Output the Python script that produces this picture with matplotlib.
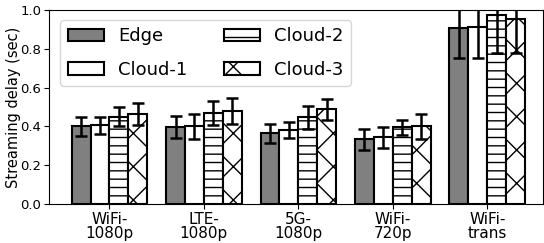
import numpy as np
import matplotlib
matplotlib.use('Agg')
import matplotlib.pyplot as plt

groups = ['WiFi-\n1080p', 'LTE-\n1080p', '5G-\n1080p', 'WiFi-\n720p', 'WiFi-\ntrans']
series = ['Edge', 'Cloud-1', 'Cloud-2', 'Cloud-3']

edge = [0.400, 0.395, 0.364, 0.333, 0.906]
cloud1 = [0.405, 0.400, 0.381, 0.344, 0.914]
cloud2 = [0.450, 0.470, 0.447, 0.395, 0.974]
cloud3 = [0.464, 0.480, 0.488, 0.400, 0.954]

edge_err = [0.047, 0.057, 0.050, 0.053, 0.155]
cloud1_err = [0.045, 0.063, 0.043, 0.054, 0.163]
cloud2_err = [0.050, 0.060, 0.058, 0.037, 0.194]
cloud3_err = [0.055, 0.065, 0.055, 0.063, 0.174]

values = [edge, cloud1, cloud2, cloud3]
errors = [edge_err, cloud1_err, cloud2_err, cloud3_err]
colors = ['#808080', 'white', 'white', 'white']
hatches = ['', '', '--', 'x']

fig = plt.figure(figsize=(5.44, 2.43), dpi=100)
ax = fig.add_axes([0.09, 0.16, 0.908, 0.799])

x = np.arange(len(groups))
w = 0.2
for k in range(4):
    ax.bar(x + (k - 1.5) * w, values[k], w, yerr=errors[k], color=colors[k],
           edgecolor='black', linewidth=1.5, hatch=hatches[k], label=series[k],
           capsize=4, error_kw=dict(elinewidth=1.8, capthick=1.8, ecolor='black'))

ax.set_xticks(x)
ax.set_xticklabels(groups, fontsize=11, linespacing=0.95)
ax.tick_params(axis='x', pad=2)
ax.tick_params(axis='y', labelsize=9.5, pad=2)
ax.set_ylabel('Streaming delay (sec)', fontsize=10.5)
ax.yaxis.set_label_coords(-0.056, 0.5)
ax.set_ylim(0, 1.0)
ax.set_yticks([0.0, 0.2, 0.4, 0.6, 0.8, 1.0])
ax.set_xlim(-0.64, 4.59)
ax.legend(ncol=2, loc='upper left', fontsize=13, handlelength=2.0, handletextpad=0.8,
          columnspacing=2.0, labelspacing=0.85, bbox_to_anchor=(0.005, 0.995))

fig.savefig('out.png', dpi=100)
